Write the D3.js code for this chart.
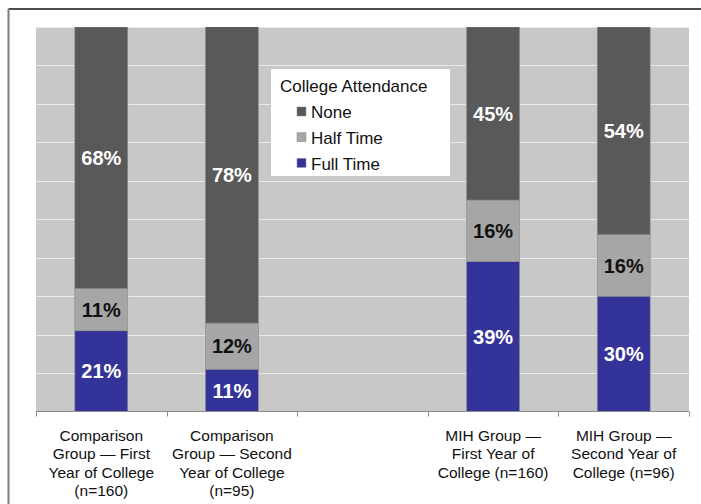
<!DOCTYPE html>
<html>
<head>
<meta charset="utf-8">
<script src="https://cdn.jsdelivr.net/npm/d3@7"></script>
<style>
  html, body { margin: 0; padding: 0; background: #fff; }
  svg { display: block; font-family: "Liberation Sans", Arial, sans-serif; }
</style>
</head>
<body>
<svg id="chart" width="701" height="504"></svg>
<script>
// Group labels (one empty slot separates the two groups), split into lines
const categories = ["comp1", "comp2", "gap", "mih1", "mih2"];
const categoryLines = [
  ["Comparison", "Group \u2014 First", "Year of College", "(n=160)"],
  ["Comparison", "Group \u2014 Second", "Year of College", "(n=95)"],
  [],
  ["MIH Group \u2014", "First Year of", "College (n=160)"],
  ["MIH Group \u2014", "Second Year of", "College (n=96)"]
];

// Percent of students by attendance status
const fullTime = [21, 11, null, 39, 30];
const halfTime = [11, 12, null, 16, 16];
const none     = [68, 78, null, 45, 54];

const seriesNames  = ["Full Time", "Half Time", "None"];
const seriesColors = ["#333399", "#a6a6a6", "#595959"];
const labelColors  = ["#ffffff", "#111111", "#ffffff"];
const legendTitle  = "College Attendance";
const yTicks = [0, 10, 20, 30, 40, 50, 60, 70, 80, 90, 100];

const svg = d3.select("#chart");
const plot = { left: 36, right: 689, top: 27, bottom: 411.5 };

// Frame lines
svg.append("line").attr("x1", 8.5).attr("x2", 701).attr("y1", 9).attr("y2", 9)
  .attr("stroke", "#111").attr("stroke-width", 1.6);
svg.append("line").attr("x1", 8.5).attr("x2", 8.5).attr("y1", 9).attr("y2", 504)
  .attr("stroke", "#7f7f7f").attr("stroke-width", 2);

const x = d3.scaleBand().domain(categories).range([plot.left, plot.right]).paddingInner(0).paddingOuter(0);
const y = d3.scaleLinear().domain([0, 100]).range([plot.bottom, plot.top]);

// Plot background
svg.append("rect")
  .attr("x", plot.left).attr("y", plot.top)
  .attr("width", plot.right - plot.left).attr("height", plot.bottom - plot.top)
  .attr("fill", "#c8c8c8");

// Bars are cut off at the 100% axis maximum
svg.append("defs").append("clipPath").attr("id", "plot-clip")
  .append("rect")
  .attr("x", plot.left).attr("y", plot.top)
  .attr("width", plot.right - plot.left).attr("height", plot.bottom - plot.top);

// Horizontal gridlines
svg.append("g").selectAll("line").data(yTicks.slice(1)).join("line")
  .attr("x1", plot.left).attr("x2", plot.right)
  .attr("y1", d => Math.round(y(d)) + 0.5).attr("y2", d => Math.round(y(d)) + 0.5)
  .attr("stroke", "#e9e9e9").attr("stroke-width", 1);

// Stacked bars
const rows = categories.map((c, i) => ({ cat: c, "Full Time": fullTime[i], "Half Time": halfTime[i], "None": none[i] }))
  .filter(r => r["Full Time"] !== null);
const stacked = d3.stack().keys(seriesNames)(rows);
const barW = x.bandwidth() * 0.405;
const yc = v => y(Math.min(v, 100));

stacked.forEach((layer, si) => {
  const g = svg.append("g");
  g.append("g").attr("clip-path", "url(#plot-clip)")
    .selectAll("rect").data(layer).join("rect")
    .attr("x", d => x(d.data.cat) + (x.bandwidth() - barW) / 2)
    .attr("y", d => y(d[1]))
    .attr("width", barW)
    .attr("height", d => y(d[0]) - y(d[1]))
    .attr("fill", seriesColors[si])
    .attr("stroke", "#8c8c8c").attr("stroke-width", 0.6);
  g.selectAll("text").data(layer).join("text")
    .attr("x", d => x(d.data.cat) + x.bandwidth() / 2)
    .attr("y", d => (yc(d[0]) + yc(d[1])) / 2)
    .attr("dy", "0.36em")
    .attr("text-anchor", "middle")
    .attr("font-size", 20).attr("font-weight", "bold")
    .attr("fill", labelColors[si])
    .text(d => (d[1] - d[0]) + "%");
});

// X axis with tick marks at slot boundaries
const axisG = svg.append("g");
axisG.append("line").attr("x1", plot.left).attr("x2", plot.right)
  .attr("y1", plot.bottom).attr("y2", plot.bottom)
  .attr("stroke", "#8c8c8c").attr("stroke-width", 1);
const boundaries = categories.map(c => x(c)).concat([plot.right]);
axisG.selectAll("line.tick").data(boundaries).join("line").attr("class", "tick")
  .attr("x1", d => Math.round(d) + 0.5).attr("x2", d => Math.round(d) + 0.5)
  .attr("y1", plot.bottom).attr("y2", plot.bottom + 5)
  .attr("stroke", "#8c8c8c");

// Category labels
categories.forEach((c, i) => {
  const t = svg.append("text")
    .attr("x", x(c) + x.bandwidth() / 2)
    .attr("y", 441)
    .attr("text-anchor", "middle")
    .attr("font-size", 15.5).attr("fill", "#111");
  categoryLines[i].forEach((line, li) => {
    t.append("tspan").attr("x", x(c) + x.bandwidth() / 2)
      .attr("y", 441 + li * 18.3).text(line);
  });
});

// Legend
const lg = svg.append("g").attr("transform", "translate(271,69)");
lg.append("rect").attr("width", 179).attr("height", 107).attr("fill", "#fff");
lg.append("text").attr("x", 9).attr("y", 23).attr("font-size", 17).attr("fill", "#111").text(legendTitle);
const legendOrder = ["None", "Half Time", "Full Time"];
legendOrder.forEach((name, i) => {
  const si = seriesNames.indexOf(name);
  const cy = 43 + i * 25.7;
  lg.append("rect").attr("x", 26).attr("y", cy - 5).attr("width", 9).attr("height", 9)
    .attr("fill", seriesColors[si]).attr("stroke", "#8c8c8c").attr("stroke-width", 0.5);
  lg.append("text").attr("x", 40).attr("y", cy).attr("dy", "0.36em")
    .attr("font-size", 17).attr("fill", "#111").text(name);
});
</script>
</body>
</html>
